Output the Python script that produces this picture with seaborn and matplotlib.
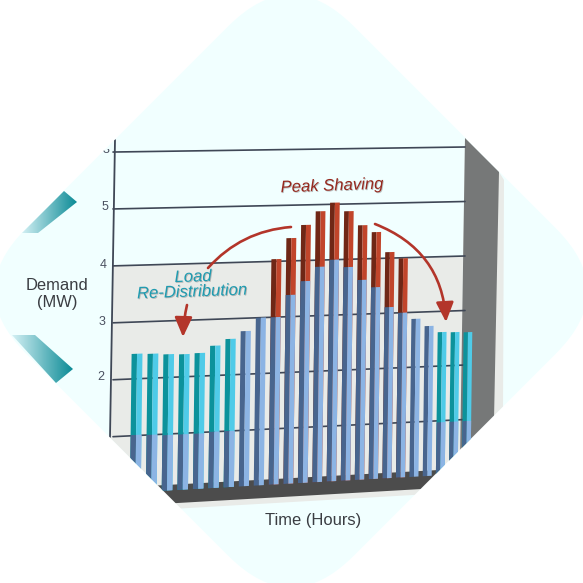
import numpy as np
import matplotlib
matplotlib.use('Agg')
import matplotlib.pyplot as plt
import matplotlib.patheffects as pe
from matplotlib.colors import LinearSegmentedColormap
from matplotlib.patches import FancyBboxPatch, Polygon, FancyArrowPatch
from matplotlib.transforms import Affine2D, Bbox, Transform
import seaborn as sns

sns.set_theme(style='white')
plt.rcParams['font.family'] = ['Liberation Sans', 'DejaVu Sans']

# values (MW)
hours = np.arange(1, 25)
demand_after = [2.44, 2.43, 2.41, 2.40, 2.41, 2.53, 2.64, 2.77, 3.00, 3.00, 3.39, 3.63,
                3.88, 4.00, 3.86, 3.62, 3.48, 3.11, 3.00, 2.88, 2.74, 2.62, 2.61, 2.60]
demand_before = [1.01, 1.00, 0.98, 0.98, 0.98, 1.00, 1.00, 2.77, 3.00, 3.00, 3.39, 3.63,
                 3.88, 4.00, 3.86, 3.62, 3.48, 3.11, 3.00, 2.88, 2.74, 0.97, 0.97, 0.97]
shaved_hours = np.arange(10, 20)
shaved_tops = [4.04, 4.41, 4.64, 4.88, 5.03, 4.87, 4.61, 4.48, 4.11, 3.99]
moved_hours = [1, 2, 3, 4, 5, 6, 7, 22, 23, 24]
grid_values = [1, 2, 3, 4, 5, 6]
tick_labels = ['3', '5', '4', '3', '2']

PALE = '#f1ffff'
PANEL = '#e9ebe8'
DARK_FACE = {'blue': '#48658e', 'teal': '#0c929b', 'red': '#6f2716'}
LIGHT_FACE = {'blue': '#8cb4e4', 'teal': '#4fcbe8', 'red': '#c1452b'}


def hour_to_px(h):
    return 132 + 16.04 * (h - 1) - 0.07 * (h - 1) ** 2


def mw_to_py(x, v):
    # the picture is drawn in perspective, gridlines close up towards the right
    y0 = 493.5 - 0.0557 * (x - 115)
    y6 = 152 - 0.0143 * (x - 115)
    return y0 + (y6 - y0) * np.asarray(v) / 6


class Perspective(Transform):
    input_dims = 2
    output_dims = 2
    is_separable = False

    def transform_non_affine(self, values):
        h, v = values[:, 0], values[:, 1]
        x = hour_to_px(h)
        return np.column_stack([x + 0.7 * (v - 3), mw_to_py(x, v)])


def draw_faces(ax, x, vals, kind):
    x = np.asarray(x, dtype=float)
    sns.barplot(x=x + 0.17, y=vals, color=DARK_FACE[kind], width=0.34, native_scale=True,
                saturation=1, errorbar=None, ax=ax, linewidth=0)
    sns.barplot(x=x + 0.51, y=vals, color=LIGHT_FACE[kind], width=0.34, native_scale=True,
                saturation=1, errorbar=None, ax=ax, linewidth=0)


fig = plt.figure(figsize=(5.83, 5.83), dpi=100, facecolor='white')
ax = fig.add_axes([0, 0, 1, 1])

# bars first, tallest part underneath
after = np.array(demand_after)
draw_faces(ax, moved_hours, after[np.array(moved_hours) - 1], 'teal')
draw_faces(ax, shaved_hours, shaved_tops, 'red')
draw_faces(ax, hours, demand_before, 'blue')
ax.set_xlim(0, 583)
ax.set_ylim(583, 0)
ax.axis('off')
ax.set_autoscale_on(False)

# rounded diamond
diamond = FancyBboxPatch((-231.6, -231.6), 463.2, 463.2, boxstyle='round,pad=0,rounding_size=88',
                         transform=Affine2D().rotate_deg(45).translate(291, 291) + ax.transData,
                         fc=PALE, ec='none', zorder=0)
ax.add_patch(diamond)

persp = Perspective() + ax.transData
for bar in ax.patches:
    if bar is not diamond:
        bar.set_transform(persp)
        bar.set_zorder(5)
        bar.set_clip_path(diamond)

# back panel, wall and floor
xs = np.array([113, 465])
ax.add_patch(Polygon([(113, mw_to_py(113, 4)), (463, mw_to_py(463, 4)), (460, 470),
                      (470, mw_to_py(470, -0.33)), (110, mw_to_py(110, -0.33)), (110, 460)],
                     fc=PANEL, ec='none', zorder=1, clip_path=diamond))
ax.add_patch(Polygon([(465, 138), (499, 172), (504, 180), (503, 412), (470, 450), (460, 450)],
                     fc=PANEL, ec='none', zorder=1.5, clip_path=diamond))
ax.add_patch(Polygon([(465, 138), (499, 172), (494, 420), (460, 460)],
                     fc='#767878', ec='none', zorder=2, clip_path=diamond))
floor_x = np.array([150, 470])
ax.add_patch(Polygon([(floor_x[0], mw_to_py(floor_x[0], 0.1)), (floor_x[1], mw_to_py(floor_x[1], 0.1)),
                      (floor_x[1], mw_to_py(floor_x[1], -0.23)), (floor_x[0], mw_to_py(floor_x[0], -0.23))],
                     fc='#4c4c4c', ec='none', zorder=3, clip_path=diamond))

# gridlines and left axis
for v in grid_values:
    line, = ax.plot(xs, mw_to_py(xs, v), color='#3f4756', lw=1.2, zorder=2.5)
    line.set_clip_path(diamond)
axis_line, = ax.plot([115, 110], [140, 437], color='#3f4756', lw=1.3, zorder=2.5)
axis_line.set_clip_path(diamond)

for y, x, s in zip([150, 207, 265, 322, 377], [106, 105, 103, 102, 101], tick_labels):
    t = ax.text(x, y, s, ha='center', va='center', fontsize=9, color='#4a5060', zorder=6)
    if y == 150:
        # the top label is cut by the edge of the picture
        t.set_clip_box(Bbox([[90, 583 - 165], [125, 583 - 149]]))
        t.set_clip_on(True)

ax.text(57, 285, 'Demand', ha='center', va='center', fontsize=11.9, color='#3a3d42', zorder=6)
ax.text(57, 303, '(MW)', ha='center', va='center', fontsize=11.9, color='#3a3d42', zorder=6)
ax.text(313, 521, 'Time (Hours)', ha='center', va='center', fontsize=11.9, color='#3a3d42', zorder=6)

shadow = [pe.SimplePatchShadow(offset=(0.6, -0.6), shadow_rgbFace='#555555', alpha=0.35), pe.Normal()]
ax.text(332, 186, 'Peak Shaving', ha='center', va='center', fontsize=12, style='italic', rotation=2,
        color='#96291f', zorder=6, path_effects=shadow)
ax.text(193, 277, 'Load', ha='center', va='center', fontsize=12, style='italic', rotation=2,
        color='#1f9bb0', zorder=6, path_effects=shadow)
ax.text(192, 292, 'Re-Distribution', ha='center', va='center', fontsize=12, style='italic', rotation=2,
        color='#1f9bb0', zorder=6, path_effects=shadow)

# red arrows
RED = '#b3352a'
ax.add_patch(FancyArrowPatch((291, 227), (208, 268), connectionstyle='arc3,rad=0.2', arrowstyle='-',
                             color=RED, lw=1.9, zorder=6, shrinkA=0, shrinkB=0))
ax.add_patch(FancyArrowPatch((187, 305), (183, 337), connectionstyle='arc3,rad=0.05',
                             arrowstyle='-|>,head_length=0.85,head_width=0.38', mutation_scale=14,
                             color=RED, lw=1.9, zorder=6, shrinkA=0, shrinkB=0))
ax.add_patch(FancyArrowPatch((375, 224), (446, 322), connectionstyle='arc3,rad=-0.32',
                             arrowstyle='-|>,head_length=0.85,head_width=0.38', mutation_scale=14,
                             color=RED, lw=1.9, zorder=6, shrinkA=0, shrinkB=0))

# teal chevrons on the left edge
chevron_cmap = LinearSegmentedColormap.from_list('chev', ['#d3f0f4', '#0c8b96'])
gradient = np.linspace(0, 1, 128).reshape(1, -1)
for corners in ([(22, 233), (38, 233), (77, 202), (64, 191)],
                [(12, 335), (35, 335), (73, 369), (56, 383)]):
    xc = [c[0] for c in corners]
    yc = [c[1] for c in corners]
    im = ax.imshow(gradient, cmap=chevron_cmap, aspect='auto', zorder=1,
                   extent=(min(xc), max(xc), max(yc), min(yc)))
    im.set_clip_path(Polygon(corners, transform=ax.transData))
ax.set_xlim(0, 583)
ax.set_ylim(583, 0)

fig.savefig('out.png', dpi=100, facecolor='white')
